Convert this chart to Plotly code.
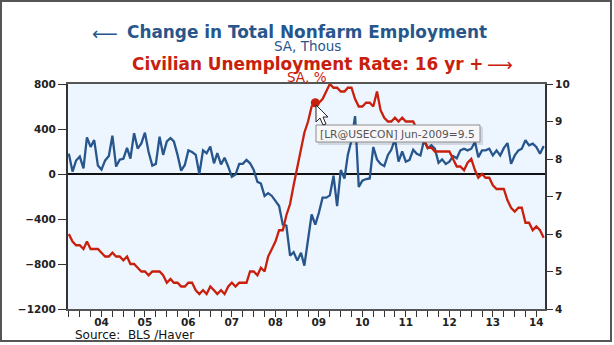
import pandas as pd
import plotly.graph_objects as go

# ---------------- data ----------------
start_month = "2003-10-01"
# Change in Total Nonfarm Employment, SA, Thous (monthly, Oct-2003 .. Sep-2014)
payroll_change = [
    181, 21, 120, 155, 50, 326, 241, 301, 75, 39, 121, 160,
    341, 66, 127, 136, 232, 136, 362, 226, 272, 368, 196, 75,
    90, 332, 170, 290, 320, 290, 170, 30, 80, 210, 195, 170,
    0, 210, 185, 245, 95, 185, 85, 145, 65, -25, -5, 90,
    90, 125, 95, 35, -70, -85, -195, -170, -195, -240, -285, -450,
    -460, -725, -695, -770, -700, -815, -600, -360, -450, -345, -210, -210,
    -190, -15, -285, 35, -40, 170, 300, 515, -115, -60, -45, -40,
    240, 130, 90, 70, 170, 215, 310, 110, 200, 110, 125, 215,
    180, 165, 300, 230, 255, 225, 100, 130, 90, 110, 160, 140,
    210, 225, 210, 225, 285, 150, 210, 210, 225, 165, 210, 165,
    230, 275, 90, 165, 210, 225, 300, 255, 270, 240, 180, 248,
]
# Civilian Unemployment Rate: 16 yr +, SA, %
unemployment_rate = [
    6.0, 5.8, 5.7,
    5.7, 5.6, 5.8, 5.6, 5.6, 5.6, 5.5, 5.4, 5.4, 5.5, 5.4, 5.4,
    5.3, 5.4, 5.2, 5.2, 5.1, 5.0, 5.0, 4.9, 5.0, 5.0, 5.0, 4.9,
    4.7, 4.8, 4.7, 4.7, 4.6, 4.6, 4.7, 4.7, 4.5, 4.4, 4.5, 4.4,
    4.6, 4.5, 4.4, 4.5, 4.4, 4.6, 4.7, 4.6, 4.7, 4.7, 4.7, 5.0,
    5.0, 4.9, 5.1, 5.0, 5.4, 5.6, 5.8, 6.1, 6.1, 6.5, 6.8, 7.3,
    7.8, 8.3, 8.7, 9.0, 9.4, 9.5, 9.5, 9.6, 9.8, 10.0, 9.9, 9.9,
    9.8, 9.8, 9.9, 9.9, 9.6, 9.4, 9.4, 9.5, 9.5, 9.4, 9.8, 9.3,
    9.1, 9.0, 9.0, 9.1, 9.0, 9.1, 9.0, 9.0, 9.0, 8.8, 8.6, 8.5,
    8.3, 8.3, 8.2, 8.2, 8.2, 8.2, 8.2, 8.0, 7.8, 7.8, 7.7, 7.9,
    8.0, 7.7, 7.5, 7.6, 7.5, 7.5, 7.3, 7.2, 7.2, 7.2, 6.9, 6.7,
    6.6, 6.7, 6.7, 6.3, 6.3, 6.1, 6.2, 6.1, 5.9,
]
year_labels = ["04", "05", "06", "07", "08", "09", "10", "11", "12", "13", "14"]
left_ticks = [-1200, -800, -400, 0, 400, 800]
right_ticks = [4, 5, 6, 7, 8, 9, 10]
highlight_month = "2009-06-01"
tooltip_text = "[LR@USECON] Jun-2009=9.5"

dates = pd.date_range(start_month, periods=len(payroll_change), freq="MS")

# quarterly ticks with year labels at mid-year
tick_dates = pd.date_range("2003-10-01", "2014-07-01", freq="QS")
tick_text = []
for d in tick_dates:
    yy = f"{d.year % 100:02d}"
    tick_text.append(yy if (d.month == 7 and yy in year_labels) else "")

BLUE = "#27568c"
RED = "#c8200c"
FONT = "DejaVu Sans, Verdana, Arial, sans-serif"

# ---------------- layout helpers (pixel -> paper) ----------------
W, H = 614, 345
L, R, T, B = 68, 545, 84, 309


def px(x):
    return (x - L) / (R - L)


def py(y):
    return (B - y) / (B - T)


fig = go.Figure()
fig.add_trace(go.Scatter(x=dates, y=payroll_change, mode="lines",
                         line=dict(color=BLUE, width=2.3), yaxis="y",
                         hoverinfo="skip", showlegend=False))
fig.add_trace(go.Scatter(x=dates, y=unemployment_rate, mode="lines",
                         line=dict(color=RED, width=2.3), yaxis="y2",
                         hoverinfo="skip", showlegend=False))
hi = list(dates).index(pd.Timestamp(highlight_month))
fig.add_trace(go.Scatter(x=[dates[hi]], y=[unemployment_rate[hi]], mode="markers",
                         marker=dict(color=RED, size=9), yaxis="y2",
                         hoverinfo="skip", showlegend=False))

tickfont = dict(family=FONT, size=10.5, color="#222", weight="bold")

fig.update_layout(
    width=W, height=H,
    margin=dict(l=L, r=W - R, t=T, b=H - B, pad=0),
    paper_bgcolor="white",
    plot_bgcolor="#edf5ff",
    showlegend=False,
    xaxis=dict(
        type="date",
        range=["2003-09-24", "2014-09-12"],
        tickmode="array", tickvals=tick_dates, ticktext=tick_text,
        ticks="outside", ticklen=6, tickwidth=1, tickcolor="#333",
        tickfont=tickfont, ticklabelstandoff=-4,
        showline=True, linecolor="#555", linewidth=2, mirror=True,
        showgrid=False, zeroline=False, fixedrange=True,
    ),
    yaxis=dict(
        range=[-1200, 800],
        tickmode="array", tickvals=left_ticks,
        ticks="outside", ticklen=8, tickwidth=1, tickcolor="#333",
        tickfont=tickfont,
        showline=True, linecolor="#333", linewidth=2,
        showgrid=False, zeroline=True, zerolinecolor="#111", zerolinewidth=1.5,
    ),
    yaxis2=dict(
        range=[4, 10], overlaying="y", side="right",
        tickmode="array", tickvals=right_ticks,
        ticks="outside", ticklen=6, tickwidth=1, tickcolor="#333",
        tickfont=tickfont,
        showline=True, linecolor="#333", linewidth=2,
        showgrid=False, zeroline=False,
    ),
)

ann = []
ann.append(dict(text="Change in Total Nonfarm Employment", x=px(306.5), y=py(32),
                font=dict(family=FONT, size=16.9, color=BLUE, weight="bold")))
ann.append(dict(text="SA, Thous", x=px(307), y=py(46),
                font=dict(family=FONT, size=13.5, color=BLUE)))
ann.append(dict(text="\u27f5", x=px(105), y=py(33),
                font=dict(family=FONT, size=18, color=BLUE)))
ann.append(dict(text="Civilian Unemployment Rate: 16 yr +", x=px(307.5), y=py(64),
                font=dict(family=FONT, size=16.9, color=RED, weight="bold")))
ann.append(dict(text="SA, %", x=px(307), y=py(77),
                font=dict(family=FONT, size=13.5, color=RED)))
ann.append(dict(text="\u27f6", x=px(500), y=py(65),
                font=dict(family=FONT, size=18, color=RED)))
ann.append(dict(text="Source:  BLS /Haver", x=px(73), y=py(335), xanchor="left",
                font=dict(family=FONT, size=12, color="#111")))
ann.append(dict(text=tooltip_text, x=px(397.5), y=py(134),
                font=dict(family=FONT, size=10.7, color="#555")))
for a in ann:
    a.update(xref="paper", yref="paper", showarrow=False)
    a.setdefault("xanchor", "center")
    a.setdefault("yanchor", "middle")
fig.update_layout(annotations=ann)

shapes = [
    # outer frame
    dict(type="rect", xref="paper", yref="paper",
         x0=px(1), x1=px(611), y0=py(341), y1=py(1),
         line=dict(color="#555", width=2), fillcolor="rgba(0,0,0,0)", layer="above"),
    # tooltip shadow
    dict(type="rect", xref="paper", yref="paper",
         x0=px(318), x1=px(483), y0=py(145), y1=py(127),
         line=dict(width=0), fillcolor="rgba(0,0,0,0.12)", layer="above"),
    # tooltip box
    dict(type="rect", xref="paper", yref="paper",
         x0=px(316), x1=px(480), y0=py(142), y1=py(125),
         line=dict(color="#8c8c8c", width=1), fillcolor="#f7f7f9", layer="above"),
]
# mouse cursor
tip = (316, 105)
cur = [(0, 0), (0, 17), (4, 13), (7, 20), (10, 19), (7, 12), (12, 12)]
path = "M " + " L ".join(f"{px(tip[0] + dx):.5f},{py(tip[1] + dy):.5f}" for dx, dy in cur) + " Z"
shapes.append(dict(type="path", xref="paper", yref="paper", path=path,
                   fillcolor="white", line=dict(color="#222", width=1), layer="above"))
fig.update_layout(shapes=shapes)

fig.write_html("out.html")
